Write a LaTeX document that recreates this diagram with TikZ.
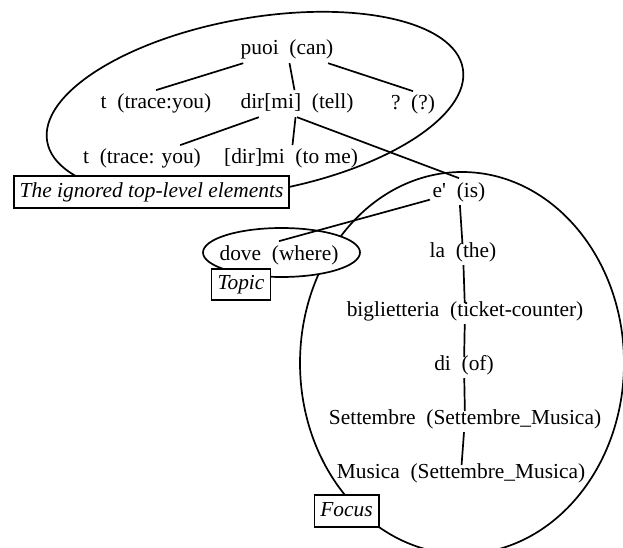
\documentclass[tikz,border=0pt]{standalone}
\usepackage{fontspec}
\setmainfont{Liberation Serif}
\usepackage{tikz}

\begin{document}
\begin{tikzpicture}[x=1pt, y=-1pt, line width=1.7pt]
% Define styles
\tikzstyle{word} = [anchor=base, inner xsep=2pt, inner ysep=2pt, text height=16pt, text depth=5.35pt, font={\fontsize{21.4pt}{26pt}\selectfont}]
\tikzstyle{grouplabel} = [draw, fill=white, inner xsep=6pt, inner ysep=5pt, text height=16pt, text depth=5.35pt, font={\fontsize{21.4pt}{26pt}\selectfont\itshape}]
\tikzstyle{chainline} = [shorten >=-6pt]
\useasboundingbox (0,0) rectangle (623,548);
\clip (0,0) rectangle (623,548);
% Groups
\draw[rotate around={10:(255,105)}] (255,105) ellipse (211pt and 87pt);
\draw (462,363) ellipse (162pt and 191pt);
\draw[fill=white] (281.5,252.5) ellipse (78.5pt and 24.5pt);
\node[grouplabel] (ignored) at (151.5,192) {The ignored top-level elements};
\node[grouplabel] (topic) at (241,284.5) {Topic};
\node[grouplabel] (focus) at (346.5,511) {Focus};
% Define nodes
\node[word] (puoi) at (287,55) {puoi~~(can)};
\node[word] (tyou) at (156,109) {t~~(trace:you)};
\node[word] (dirmi) at (297,109) {dir[mi]~~(tell)};
\node[word] (qmark) at (413,110) {?~~(?)};
\node[word] (ttrace) at (142,164) {t~~(trace: you)};
\node[word] (dirmime) at (291,164) {[dir]mi~~(to me)};
\node[word] (eis) at (459,197) {e\textquotesingle~~(is)};
\node[word] (dove) at (279,260) {dove~~(where)};
\node[word] (la) at (463,257) {la~~(the)};
\node[word] (bigl) at (465,316) {biglietteria~~(ticket-counter)};
\node[word] (di) at (464,370) {di~~(of)};
\node[word] (sett) at (465,424) {Settembre~~(Settembre\_Musica)};
\node[word] (musica) at (461,478) {Musica~~(Settembre\_Musica)};
% Connect the nodes
\draw (puoi) -- (tyou.north);
\draw (puoi) -- (dirmi);
\draw (puoi) -- (qmark.north);
\draw (dirmi) -- (ttrace);
\draw (dirmi) -- (dirmime);
\draw (dirmi.south) -- (eis.north);
\draw (eis) -- (dove.north);
\draw[chainline] (eis) -- (la);
\draw[chainline] (la) -- (bigl);
\draw[chainline] (bigl) -- (di);
\draw[chainline] (di) -- (sett);
\draw[chainline] (sett) -- (musica);
\end{tikzpicture}
\end{document}
